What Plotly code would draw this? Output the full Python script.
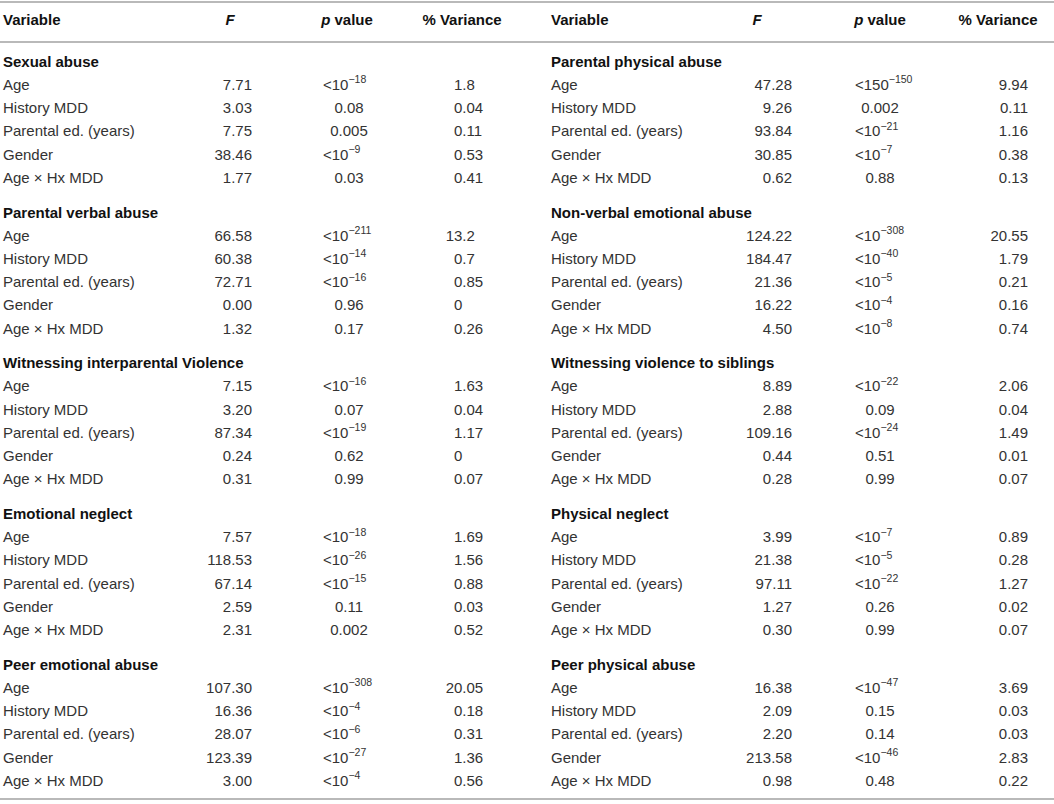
import plotly.graph_objects as go

# row labels shared by every block
row_labels = ["Age", "History MDD", "Parental ed. (years)", "Gender", "Age × Hx MDD"]

# ---- left half ----
sexual_abuse_f = [7.71, 3.03, 7.75, 38.46, 1.77]
sexual_abuse_p = ["<10^-18", "0.08", "0.005", "<10^-9", "0.03"]
sexual_abuse_var = ["1.8", "0.04", "0.11", "0.53", "0.41"]

verbal_abuse_f = [66.58, 60.38, 72.71, 0.00, 1.32]
verbal_abuse_p = ["<10^-211", "<10^-14", "<10^-16", "0.96", "0.17"]
verbal_abuse_var = ["13.2", "0.7", "0.85", "0", "0.26"]

interparental_f = [7.15, 3.20, 87.34, 0.24, 0.31]
interparental_p = ["<10^-16", "0.07", "<10^-19", "0.62", "0.99"]
interparental_var = ["1.63", "0.04", "1.17", "0", "0.07"]

emotional_neglect_f = [7.57, 118.53, 67.14, 2.59, 2.31]
emotional_neglect_p = ["<10^-18", "<10^-26", "<10^-15", "0.11", "0.002"]
emotional_neglect_var = ["1.69", "1.56", "0.88", "0.03", "0.52"]

peer_emotional_f = [107.30, 16.36, 28.07, 123.39, 3.00]
peer_emotional_p = ["<10^-308", "<10^-4", "<10^-6", "<10^-27", "<10^-4"]
peer_emotional_var = ["20.05", "0.18", "0.31", "1.36", "0.56"]

# ---- right half ----
physical_abuse_f = [47.28, 9.26, 93.84, 30.85, 0.62]
physical_abuse_p = ["<150^-150", "0.002", "<10^-21", "<10^-7", "0.88"]
physical_abuse_var = ["9.94", "0.11", "1.16", "0.38", "0.13"]

nonverbal_f = [124.22, 184.47, 21.36, 16.22, 4.50]
nonverbal_p = ["<10^-308", "<10^-40", "<10^-5", "<10^-4", "<10^-8"]
nonverbal_var = ["20.55", "1.79", "0.21", "0.16", "0.74"]

siblings_f = [8.89, 2.88, 109.16, 0.44, 0.28]
siblings_p = ["<10^-22", "0.09", "<10^-24", "0.51", "0.99"]
siblings_var = ["2.06", "0.04", "1.49", "0.01", "0.07"]

physical_neglect_f = [3.99, 21.38, 97.11, 1.27, 0.30]
physical_neglect_p = ["<10^-7", "<10^-5", "<10^-22", "0.26", "0.99"]
physical_neglect_var = ["0.89", "0.28", "1.27", "0.02", "0.07"]

peer_physical_f = [16.38, 2.09, 2.20, 213.58, 0.98]
peer_physical_p = ["<10^-47", "0.15", "0.14", "<10^-46", "0.48"]
peer_physical_var = ["3.69", "0.03", "0.03", "2.83", "0.22"]

left_blocks = [
    ("Sexual abuse", sexual_abuse_f, sexual_abuse_p, sexual_abuse_var),
    ("Parental verbal abuse", verbal_abuse_f, verbal_abuse_p, verbal_abuse_var),
    ("Witnessing interparental Violence", interparental_f, interparental_p, interparental_var),
    ("Emotional neglect", emotional_neglect_f, emotional_neglect_p, emotional_neglect_var),
    ("Peer emotional abuse", peer_emotional_f, peer_emotional_p, peer_emotional_var),
]
right_blocks = [
    ("Parental physical abuse", physical_abuse_f, physical_abuse_p, physical_abuse_var),
    ("Non-verbal emotional abuse", nonverbal_f, nonverbal_p, nonverbal_var),
    ("Witnessing violence to siblings", siblings_f, siblings_p, siblings_var),
    ("Physical neglect", physical_neglect_f, physical_neglect_p, physical_neglect_var),
    ("Peer physical abuse", peer_physical_f, peer_physical_p, peer_physical_var),
]

FONT = "Liberation Sans, Helvetica Neue, Arial, sans-serif"
BODY = "#333333"
HEAD = "#111111"
SIZE = 15
DIGIT_W = 8.34

def ptext(s):
    if "^" in s:
        base, exp = s.split("^")
        return base + "<sup>" + exp.replace("-", "\u2212") + "</sup>"
    return s

def title_y(g):
    return 63 + 150.75 * g

def row_y(g, r):
    return title_y(g) + 23 + 23.25 * r

fig = go.Figure()

def add_col(xs, ys, texts, pos, color=BODY):
    fig.add_trace(go.Scatter(
        x=xs, y=ys, text=texts, mode="text", textposition=pos,
        textfont=dict(family=FONT, size=SIZE, color=color),
        hoverinfo="skip", showlegend=False, cliponaxis=False,
    ))

def add_half(blocks, cols):
    var_x, f_x, p_lt_x, p_mid_x, v_x, v_mode = cols
    tx, ty, tt = [], [], []
    lx, ly, lt = [], [], []
    fx, fy, ft = [], [], []
    px, py, pt, pp = [], [], [], []
    vx, vy, vt = [], [], []
    for g, (name, fv, pv, vv) in enumerate(blocks):
        tx.append(var_x); ty.append(title_y(g)); tt.append("<b>" + name + "</b>")
        for r in range(5):
            y = row_y(g, r)
            lx.append(var_x); ly.append(y); lt.append(row_labels[r])
            fx.append(f_x); fy.append(y); ft.append(f"{fv[r]:.2f}")
            if pv[r].startswith("<"):
                px.append(p_lt_x); pp.append("middle right")
            else:
                px.append(p_mid_x); pp.append("middle center")
            py.append(y); pt.append(ptext(pv[r]))
            if v_mode == "left":
                ndig = len(vv[r].split(".")[0])
                vx.append(v_x - (ndig - 1) * DIGIT_W)
            else:
                vx.append(v_x)
            vy.append(y); vt.append(vv[r])
    add_col(tx, ty, tt, "middle right", HEAD)
    add_col(lx, ly, lt, "middle right")
    add_col(fx, fy, ft, "middle left")
    add_col(px, py, pt, pp)
    add_col(vx, vy, vt, "middle right" if v_mode == "left" else "middle left")

add_half(left_blocks, (3, 252, 323, 349, 454, "left"))
add_half(right_blocks, (551, 792, 855, 880, 1028, "right"))

# header row
header_x = [3, 230, 347, 462, 551, 757, 880, 998]
header_pos = ["middle right", "middle center", "middle center", "middle center",
              "middle right", "middle center", "middle center", "middle center"]
header_text = ["<b>Variable</b>", "<b><i>F</i></b>", "<b><i>p</i> value</b>", "<b>% Variance</b>"] * 2
add_col(header_x, [21] * 8, header_text, header_pos, HEAD)

# horizontal rules
for yy in [2, 42, 799]:
    fig.add_shape(type="line", xref="paper", x0=0, x1=1, yref="y", y0=yy, y1=yy,
                  line=dict(color="#b9b9b9", width=2))

fig.update_layout(
    width=1054, height=804,
    margin=dict(l=0, r=0, t=0, b=0),
    paper_bgcolor="white", plot_bgcolor="white",
    xaxis=dict(range=[0, 1054], visible=False, fixedrange=True),
    yaxis=dict(range=[804, 0], visible=False, fixedrange=True),
)

# the page's default body margin would push the figure 8px in
fig.write_html("out.html", config={"displayModeBar": False},
               post_script="document.body.style.margin='0';")
